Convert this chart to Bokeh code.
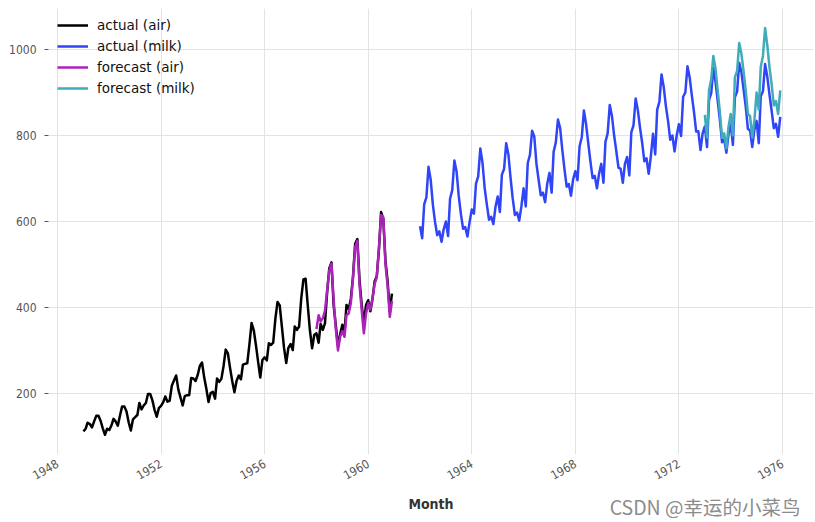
import datetime as dt
import pandas as pd
from bokeh.plotting import figure
from bokeh.models import FixedTicker, DatetimeTickFormatter, Range1d, Legend, LegendItem, Title
from bokeh.embed import file_html
from bokeh.resources import INLINE

# ---- data ----
air_actual = [
    112, 118, 132, 129, 121, 135, 148, 148, 136, 119, 104, 118,
    115, 126, 141, 135, 125, 149, 170, 170, 158, 133, 114, 140,
    145, 150, 178, 163, 172, 178, 199, 199, 184, 162, 146, 166,
    171, 180, 193, 181, 183, 218, 230, 242, 209, 191, 172, 194,
    196, 196, 236, 235, 229, 243, 264, 272, 237, 211, 180, 201,
    204, 188, 235, 227, 234, 264, 302, 293, 259, 229, 203, 229,
    242, 233, 267, 269, 270, 315, 364, 347, 312, 274, 237, 278,
    284, 277, 317, 313, 318, 374, 413, 405, 355, 306, 271, 306,
    315, 301, 356, 348, 355, 422, 465, 467, 404, 347, 305, 336,
    340, 318, 362, 348, 363, 435, 491, 505, 404, 359, 310, 337,
    360, 342, 406, 396, 420, 472, 548, 559, 463, 407, 362, 405,
    417, 391, 419, 461, 472, 535, 622, 606, 508, 461, 390, 432,
]
air_start = "1949-01-01"

milk_actual = [
    589, 561, 640, 656, 727, 697, 640, 599, 568, 577, 553, 582,
    600, 566, 653, 673, 742, 716, 660, 617, 583, 587, 565, 598,
    628, 618, 688, 705, 770, 736, 678, 639, 604, 611, 594, 634,
    658, 622, 709, 722, 782, 756, 702, 653, 615, 621, 602, 635,
    677, 635, 736, 755, 811, 798, 735, 697, 661, 667, 645, 688,
    713, 667, 762, 784, 837, 817, 767, 722, 681, 687, 660, 698,
    717, 696, 775, 796, 858, 826, 783, 740, 701, 706, 677, 711,
    734, 690, 785, 805, 871, 845, 801, 764, 725, 723, 690, 734,
    750, 707, 807, 824, 886, 859, 819, 783, 740, 747, 711, 751,
    804, 756, 860, 878, 942, 913, 869, 834, 790, 800, 763, 800,
    826, 799, 890, 900, 961, 935, 894, 855, 809, 810, 766, 805,
    821, 773, 883, 898, 957, 924, 881, 837, 784, 791, 760, 802,
    828, 778, 889, 902, 969, 947, 908, 867, 815, 812, 773, 813,
    834, 782, 892, 903, 966, 937, 896, 858, 817, 827, 797, 843,
]
milk_start = "1962-01-01"

air_forecast = [
    350, 382, 368, 375, 392, 440, 485, 502, 418, 350, 300, 332,
    345, 332, 382, 386, 410, 470, 540, 555, 452, 395, 340, 385,
    410, 395, 420, 455, 470, 540, 615, 610, 500, 450, 378, 415,
]
air_fc_start = "1958-01-01"

milk_forecast = [
    848, 795, 905, 930, 985, 955, 905, 855, 795, 805, 770, 820,
    850, 800, 935, 950, 1015, 990, 950, 905, 850, 845, 795, 835,
    900, 860, 960, 985, 1050, 1010, 960, 920, 870, 880, 850, 905,
]
milk_fc_start = "1973-01-01"

tick_years = [1948, 1952, 1956, 1960, 1964, 1968, 1972, 1976]
y_ticks = [200, 400, 600, 800, 1000]

series = [
    ("actual (air)", air_start, air_actual, "#000000"),
    ("actual (milk)", milk_start, milk_actual, "#2f45f7"),
    ("forecast (air)", air_fc_start, air_forecast, "#ac22bb"),
    ("forecast (milk)", milk_fc_start, milk_forecast, "#40acba"),
]

def ms(y):
    return dt.datetime(int(y), 1, 1).timestamp() * 1000 + (y - int(y)) * 365.25 * 86400000

TICK_FONT = "'DejaVu Sans Condensed', 'Liberation Sans Narrow', 'DejaVu Sans', sans-serif"

p = figure(width=813, height=518, x_axis_type="datetime",
           output_backend="svg", toolbar_location=None,
           min_border_left=48, min_border_right=0, min_border_top=8, min_border_bottom=64)
p.x_range = Range1d(ms(1947.6524), ms(1977.197))
p.y_range = Range1d(58.1, 1095.3)

items = []
for name, start, vals, color in series:
    x = pd.date_range(start, periods=len(vals), freq="MS")
    r = p.line(x, vals, line_color=color, line_width=2.5, line_join="round")
    items.append(LegendItem(label=name, renderers=[r]))

p.outline_line_color = None
p.background_fill_color = "white"
p.border_fill_color = "white"

p.xaxis.ticker = FixedTicker(ticks=[ms(y) for y in tick_years])
p.xaxis.formatter = DatetimeTickFormatter(years="%Y", months="%Y", days="%Y")
p.yaxis.ticker = FixedTicker(ticks=y_ticks)

for ax in (p.xaxis, p.yaxis):
    ax.axis_line_color = None
    ax.minor_tick_line_color = None
    ax.major_label_text_font = TICK_FONT
    ax.major_label_text_font_size = "12px"
    ax.major_label_text_color = "#555555"
    ax.major_tick_line_color = "#555555"
    ax.major_tick_in = 0

p.yaxis.major_tick_out = 4
p.yaxis.major_label_standoff = 8
p.xaxis.major_tick_out = 0
p.xaxis.major_label_orientation = 0.52
p.xaxis.major_label_standoff = 8
p.xaxis.axis_label = "Month"
p.xaxis.axis_label_text_font = TICK_FONT
p.xaxis.axis_label_text_font_style = "bold"
p.xaxis.axis_label_text_font_size = "14px"
p.xaxis.axis_label_text_color = "#333333"
p.xaxis.axis_label_standoff = 9

p.xgrid.ticker = FixedTicker(ticks=[ms(y) for y in tick_years])
p.ygrid.ticker = FixedTicker(ticks=y_ticks)
p.grid.grid_line_color = "#e3e3e3"
p.grid.grid_line_width = 1

legend = Legend(items=items, location=(9, 356), margin=0, padding=0,
                glyph_width=31, glyph_height=20, spacing=1, label_standoff=9,
                label_text_font="DejaVu Sans", label_text_font_size="13.5px",
                label_text_color="#111111",
                background_fill_alpha=0, border_line_color=None)
p.add_layout(legend)

wm = Title(text="CSDN @幸运的小菜鸟", align="right", vertical_align="top",
           standoff=-46, offset=13,
           text_font="Noto Sans CJK SC", text_font_size="19.5px",
           text_font_style="normal", text_color="#8c8c8c")
p.add_layout(wm, "below")

open("out.html", "w").write(file_html(p, INLINE))
